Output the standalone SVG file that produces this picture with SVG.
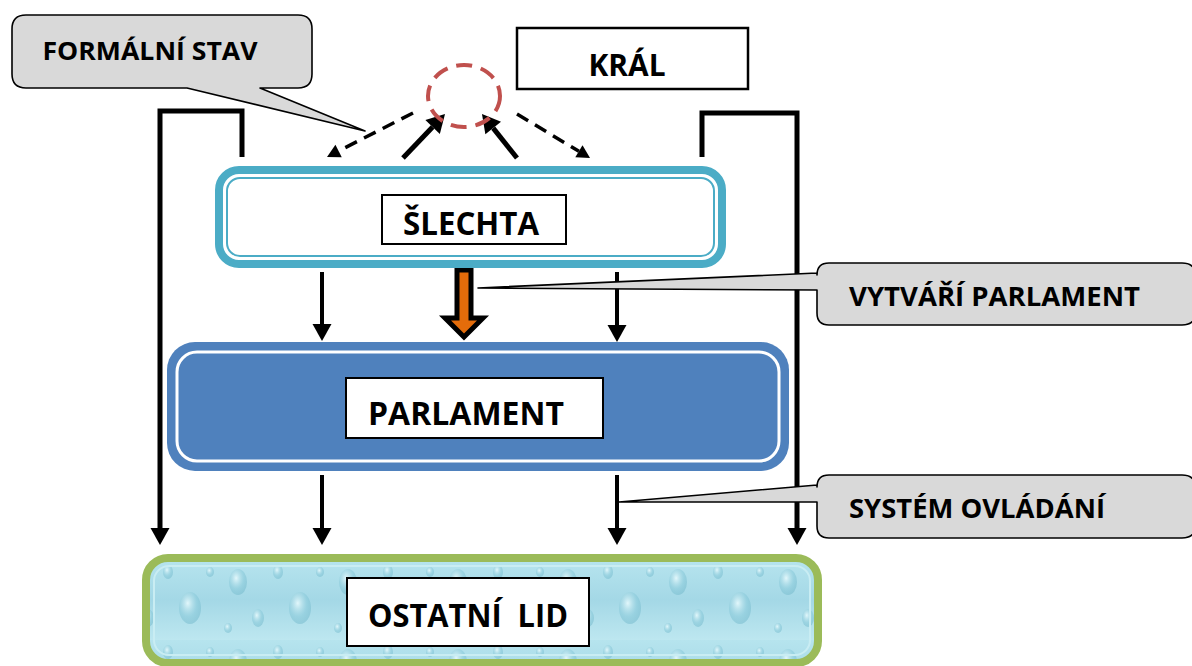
<svg xmlns="http://www.w3.org/2000/svg" width="1192" height="666" viewBox="0 0 1192 666">
  <style>
    .lbl { font-family: "Open Sans", Lato, "Liberation Sans", sans-serif; font-weight: bold; fill: #000; }
    .big { font-size: 33px; }
    .call { font-size: 26px; }
    .bubble { fill: #D9D9D9; stroke: #000; stroke-width: 1.6; stroke-linejoin: round; }
    .lblbox { fill: #fff; stroke: #000; stroke-width: 2; }
    .conn { fill: none; stroke: #000; stroke-width: 5; }
    .thin { fill: none; stroke: #000; stroke-width: 4; }
    .dash { fill: none; stroke: #000; stroke-width: 3.5; stroke-dasharray: 13 8; }
  </style>
  <defs>
    <marker id="ah" markerUnits="userSpaceOnUse" markerWidth="17" markerHeight="19" viewBox="0 0 17 19" refX="0" refY="9.5" orient="auto" overflow="visible">
      <path d="M0,0 L17,9.5 L0,19 Z" fill="#000"/>
    </marker>
    <marker id="ahb" markerUnits="userSpaceOnUse" markerWidth="18" markerHeight="20" viewBox="0 0 18 20" refX="0" refY="10" orient="auto" overflow="visible">
      <path d="M0,0 L18,10 L0,20 Z" fill="#000"/>
    </marker>
    <marker id="ahs" markerUnits="userSpaceOnUse" markerWidth="13" markerHeight="14" viewBox="0 0 13 14" refX="0" refY="7" orient="auto" overflow="visible">
      <path d="M0,0 L13,7 L0,14 Z" fill="#000"/>
    </marker>
    <linearGradient id="water" x1="0" y1="0" x2="0" y2="1">
      <stop offset="0" stop-color="#B6E4EE"/>
      <stop offset="0.5" stop-color="#A4D8E6"/>
      <stop offset="1" stop-color="#BDE7F0"/>
    </linearGradient>
    <radialGradient id="drop" cx="0.4" cy="0.35" r="0.7">
      <stop offset="0" stop-color="#E8FAFD" stop-opacity="0.9"/>
      <stop offset="0.6" stop-color="#8CCBDB" stop-opacity="0.6"/>
      <stop offset="1" stop-color="#6FB6C9" stop-opacity="0.5"/>
    </radialGradient>
    <pattern id="drops" patternUnits="userSpaceOnUse" width="110" height="80">
      <rect width="110" height="80" fill="url(#water)"/>
      <ellipse cx="18" cy="22" rx="9" ry="13" fill="url(#drop)"/>
      <ellipse cx="58" cy="12" rx="5" ry="7" fill="url(#drop)"/>
      <ellipse cx="80" cy="48" rx="11" ry="16" fill="url(#drop)"/>
      <ellipse cx="38" cy="58" rx="6" ry="9" fill="url(#drop)"/>
      <ellipse cx="100" cy="12" rx="4" ry="5" fill="url(#drop)"/>
      <ellipse cx="8" cy="68" rx="4" ry="5" fill="url(#drop)"/>
    </pattern>
  </defs>

  <!-- Connectors -->
  <g id="connectors">
    <polyline class="conn" points="242,157 242,111 160,111 160,528" marker-end="url(#ah)"/>
    <polyline class="conn" points="702,157 702,113 797,113 797,528" marker-end="url(#ah)"/>
    <line class="thin" x1="322" y1="272" x2="322" y2="324" marker-end="url(#ah)"/>
    <line class="thin" x1="617" y1="272" x2="617" y2="325" marker-end="url(#ah)"/>
    <line class="thin" x1="322" y1="475" x2="322" y2="528" marker-end="url(#ah)"/>
    <line class="thin" x1="617" y1="475" x2="617" y2="528" marker-end="url(#ah)"/>
    <line class="conn" x1="403" y1="158" x2="432.6" y2="127" marker-end="url(#ahb)"/>
    <line class="conn" x1="517" y1="158" x2="493.2" y2="128.1" marker-end="url(#ahb)"/>
    <line class="dash" x1="413" y1="113" x2="338.6" y2="151" marker-end="url(#ahs)"/>
    <line class="dash" x1="517" y1="114" x2="578.9" y2="151.3" marker-end="url(#ahs)"/>
    <polygon points="457,270 471,270 471,318 483,318 464,337 445,318 457,318" fill="#E46C0A" stroke="#000" stroke-width="5" stroke-linejoin="miter"/>
  </g>

  <!-- King circle -->
  <g id="kral-circle">
    <ellipse cx="464" cy="96" rx="36" ry="31" fill="none" stroke="#C0504D" stroke-width="4" stroke-dasharray="16 9"/>
  </g>

  <!-- KRÁL -->
  <g id="kral">
    <rect x="517" y="28" width="231" height="61" fill="#fff" stroke="#000" stroke-width="2.5"/>
    <text class="lbl" x="627" y="76" font-size="31" text-anchor="middle" textLength="77" lengthAdjust="spacingAndGlyphs">KRÁL</text>
  </g>

  <!-- ŠLECHTA -->
  <g id="slechta">
    <rect x="219" y="170" width="503" height="94" rx="20" fill="#fff" stroke="#4BACC6" stroke-width="8"/>
    <rect x="227" y="178" width="487" height="78" rx="13" fill="none" stroke="#4BACC6" stroke-width="2"/>
    <rect class="lblbox" x="382" y="195" width="184" height="49"/>
    <text class="lbl big" x="471" y="235" text-anchor="middle" textLength="136" lengthAdjust="spacingAndGlyphs">ŠLECHTA</text>
  </g>

  <!-- PARLAMENT -->
  <g id="parlament">
    <rect x="167" y="342" width="622" height="129" rx="28" fill="#4F81BD"/>
    <rect x="177" y="352" width="602" height="109" rx="20" fill="none" stroke="#fff" stroke-width="3"/>
    <rect class="lblbox" x="346" y="378" width="257" height="60"/>
    <text class="lbl big" x="466" y="425" text-anchor="middle" textLength="196" lengthAdjust="spacingAndGlyphs">PARLAMENT</text>
  </g>

  <!-- OSTATNÍ LID -->
  <g id="ostatni-lid">
    <rect x="146" y="558" width="672" height="105" rx="22" fill="url(#drops)" stroke="#9BBB59" stroke-width="8"/>
    <rect x="154" y="566" width="656" height="89" rx="15" fill="none" stroke="#C9EDF3" stroke-width="2"/>
    <rect class="lblbox" x="347" y="578" width="242" height="68"/>
    <text class="lbl big" x="468" y="627" text-anchor="middle" textLength="200" lengthAdjust="spacingAndGlyphs" xml:space="preserve">OSTATNÍ  LID</text>
  </g>

  <!-- Callouts -->
  <g id="callout-formalni">
    <path class="bubble" d="M26,15 H298 Q312,15 312,29 V74 Q312,88 298,88 H260 L365,131 L187,88 H26 Q12,88 12,74 V29 Q12,15 26,15 Z"/>
    <text class="lbl" x="150" y="60" font-size="25" text-anchor="middle" textLength="215" lengthAdjust="spacingAndGlyphs">FORMÁLNÍ STAV</text>
  </g>

  <g id="callout-vytvari">
    <path class="bubble" d="M829,263 H1182 Q1196,263 1196,277 V311 Q1196,325 1182,325 H829 Q817,325 817,313 V290 L478,288 L817,273 V275 Q817,263 829,263 Z"/>
    <text class="lbl call" x="849" y="306" textLength="291" lengthAdjust="spacingAndGlyphs">VYTVÁŘÍ PARLAMENT</text>
  </g>

  <g id="callout-system">
    <path class="bubble" d="M829,475 H1182 Q1196,475 1196,489 V524 Q1196,538 1182,538 H829 Q817,538 817,526 V502 L619,502 L817,485 V487 Q817,475 829,475 Z"/>
    <text class="lbl call" x="849" y="518" textLength="256" lengthAdjust="spacingAndGlyphs">SYSTÉM OVLÁDÁNÍ</text>
  </g>
</svg>
